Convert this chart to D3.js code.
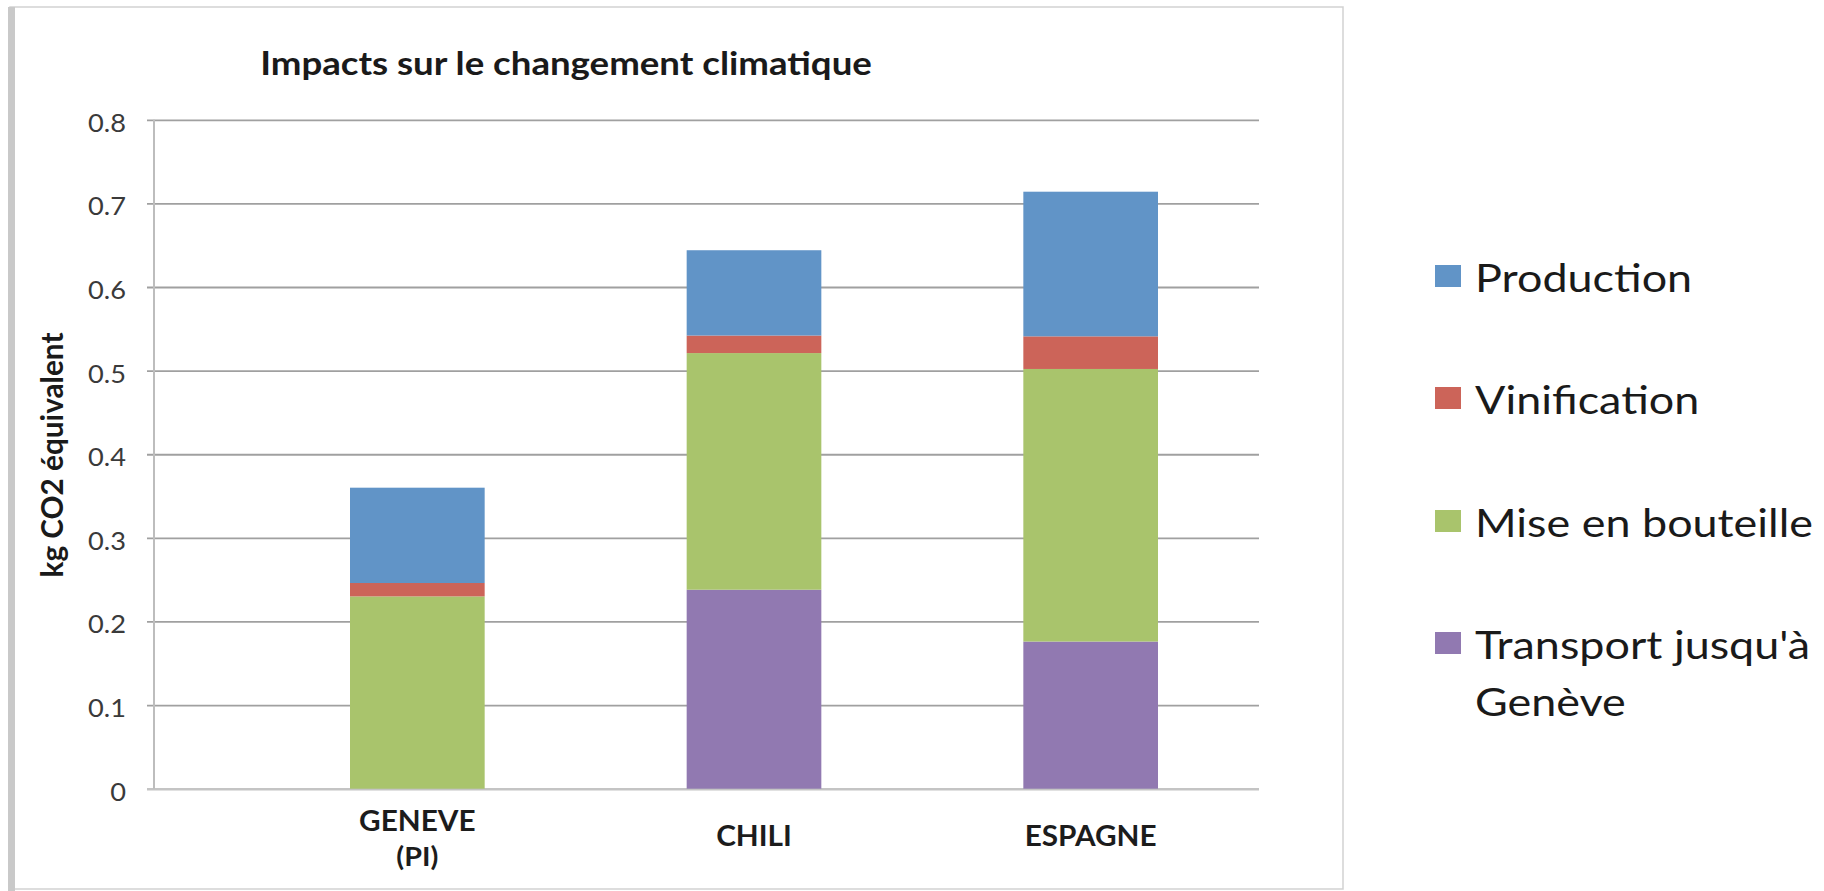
<!DOCTYPE html>
<html>
<head>
<meta charset="utf-8">
<script src="https://cdn.jsdelivr.net/npm/d3@7/dist/d3.min.js"></script>
<style>
  html, body { margin: 0; padding: 0; background: #ffffff; }
  svg { display: block; }
  text { font-family: Lato, "Open Sans", "DejaVu Sans", sans-serif; }
</style>
</head>
<body>
<svg id="chart" width="1824" height="891"></svg>
<script>
// ---- Data ----
const categories = ["GENEVE\n(PI)", "CHILI", "ESPAGNE"];
const seriesNames = ["Production", "Vinification", "Mise en bouteille", "Transport jusqu'à\nGenève"];
// values in kg CO2 eq, per category
const production      = [0.114, 0.102, 0.173];
const vinification    = [0.016, 0.021, 0.039];
const miseEnBouteille = [0.230, 0.283, 0.326];
const transport       = [0.000, 0.238, 0.176];
const yTicks = [0, 0.1, 0.2, 0.3, 0.4, 0.5, 0.6, 0.7, 0.8];
const title = "Impacts sur le changement climatique";
const yTitle = "kg CO2 équivalent";

const colors = {
  "Production": "#6194c7",
  "Vinification": "#cc6459",
  "Mise en bouteille": "#a9c46c",
  "Transport": "#9179b1"
};

const table = categories.map((c, i) => ({
  cat: c,
  Transport: transport[i],
  "Mise en bouteille": miseEnBouteille[i],
  Vinification: vinification[i],
  Production: production[i]
}));
const stackKeys = ["Transport", "Mise en bouteille", "Vinification", "Production"];
const stacked = d3.stack().keys(stackKeys)(table);

const svg = d3.select("#chart");

// helper: horizontal stretch factor so that a sample text reaches a target width
function stretchFor(sample, size, weight, target) {
  const t = svg.append("text").style("font-size", size + "px").style("font-weight", weight).text(sample);
  const w = t.node().getComputedTextLength();
  t.remove();
  return target / w;
}

// frame
svg.append("rect").attr("x", 10).attr("y", 7).attr("width", 1333).attr("height", 882)
  .attr("fill", "#ffffff").attr("stroke", "#d2d2d2").attr("stroke-width", 1.5);
svg.append("rect").attr("x", 8).attr("y", 7).attr("width", 7).attr("height", 884)
  .attr("fill", "#c9c9c9");

// scales
const y = d3.scaleLinear().domain([0, 0.8]).range([788.7, 119.8]);
const x = d3.scaleBand().domain(categories).range([249, 1259]).paddingInner(0.6).paddingOuter(0.3);
const axisX = 154, gridX1 = 147, gridX2 = 1259;

// gridlines (via axis, labels drawn separately)
const yAxis = d3.axisLeft(y).tickValues(yTicks).tickSize(-(gridX2 - gridX1)).tickFormat("");
const gy = svg.append("g").attr("transform", `translate(${gridX1},0)`).call(yAxis);
gy.select(".domain").remove();
gy.selectAll(".tick line")
  .attr("stroke", d => d === 0 ? "#c4c4c4" : "#a0a0a0")
  .attr("stroke-width", d => d === 0 ? 2.6 : 1.8);

// tick labels
const tickSize = 25;
const tickSx = stretchFor("0.5", tickSize, "normal", 38);
svg.append("g").selectAll("text").data(yTicks).join("text")
  .attr("transform", d => `translate(126,${y(d) + 12}) scale(${tickSx},1)`)
  .attr("text-anchor", "end").attr("fill", "#3a3a3a")
  .style("font-size", tickSize + "px")
  .text(d => d === 0 ? "0" : d3.format(".1f")(d));

// vertical axis line
svg.append("line").attr("x1", axisX).attr("x2", axisX).attr("y1", y(0.8)).attr("y2", y(0))
  .attr("stroke", "#bdbdbd").attr("stroke-width", 2);

// bars
svg.append("g").selectAll("g").data(stacked).join("g")
  .attr("fill", d => colors[d.key])
  .selectAll("rect").data(d => d).join("rect")
  .attr("x", d => x(d.data.cat))
  .attr("width", x.bandwidth())
  .attr("y", d => y(d[1]))
  .attr("height", d => Math.max(0, y(d[0]) - y(d[1])));

// category labels
const catSize = 28;
const catSx = stretchFor("ESPAGNE", catSize, "bold", 132);
categories.forEach(c => {
  const lines = c.split("\n");
  const base = lines.length > 1 ? 831 : 846;
  lines.forEach((l, i) => {
    svg.append("text")
      .attr("transform", `translate(${x(c) + x.bandwidth() / 2},${base + i * 35}) scale(${catSx},1)`)
      .attr("text-anchor", "middle").attr("fill", "#1c1c1c")
      .style("font-size", (i > 0 ? catSize - 1 : catSize) + "px").style("font-weight", "bold")
      .text(l);
  });
});

// title
const titleSize = 32;
const titleSx = stretchFor(title, titleSize, "bold", 612);
svg.append("text").attr("transform", `translate(566,75) scale(${titleSx},1)`).attr("text-anchor", "middle")
  .attr("fill", "#1a1a1a").style("font-size", titleSize + "px").style("font-weight", "bold")
  .text(title);

// y title: fit its length to the reference
const yt = svg.append("text").attr("transform", `translate(63,455) rotate(-90)`).attr("text-anchor", "middle")
  .attr("fill", "#1a1a1a").style("font-size", "26px").style("font-weight", "bold")
  .text(yTitle);
const ytLen = yt.node().getComputedTextLength();
yt.style("font-size", (26 * 245 / ytLen) + "px");

// legend
const legendRows = [276, 398, 521, 643];
const legKeys = ["Production", "Vinification", "Mise en bouteille", "Transport"];
const legSize = 39;
const legSx = stretchFor("Mise en bouteille", legSize, "normal", 338);
legKeys.forEach((k, i) => {
  const cy = legendRows[i];
  svg.append("rect").attr("x", 1435).attr("y", cy - 11).attr("width", 26).attr("height", 22)
    .attr("fill", colors[k]);
  seriesNames[i].split("\n").forEach((line, j) => {
    svg.append("text")
      .attr("transform", `translate(1475,${cy + 16 + j * 57}) scale(${legSx},1)`)
      .attr("fill", "#1a1a1a").style("font-size", legSize + "px")
      .text(line);
  });
});
</script>
</body>
</html>
